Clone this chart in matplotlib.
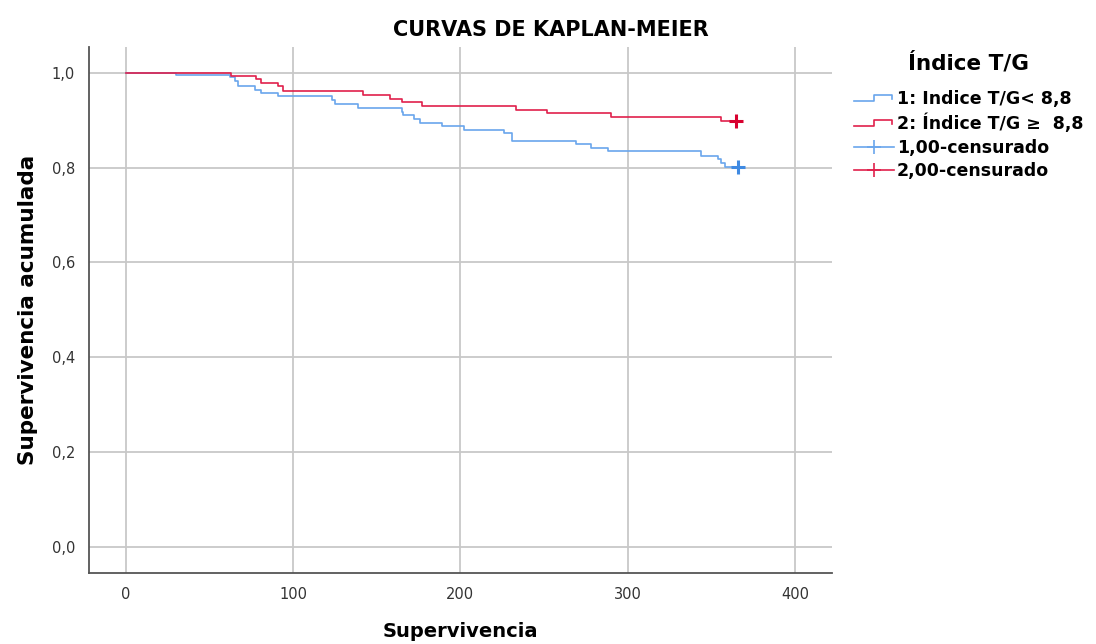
import matplotlib
matplotlib.use("Agg")
import matplotlib.pyplot as plt
from matplotlib import font_manager
from matplotlib.lines import Line2D
from matplotlib.legend_handler import HandlerBase

# Grupo 1: Indice T/G < 8,8
t_g1 = [0, 30, 62, 65, 67, 77, 81, 91, 123, 125, 139, 165, 166, 172, 176,
        189, 202, 226, 231, 269, 278, 288, 344, 354, 356, 358, 366]
s_g1 = [1.0, 0.996, 0.990, 0.983, 0.973, 0.964, 0.957, 0.950, 0.942, 0.934,
        0.926, 0.918, 0.910, 0.902, 0.895, 0.887, 0.880, 0.873, 0.857, 0.850,
        0.841, 0.834, 0.825, 0.818, 0.809, 0.802, 0.802]
cens_t_g1 = [366]
cens_s_g1 = [0.802]

# Grupo 2: Indice T/G >= 8,8
t_g2 = [0, 63, 78, 81, 91, 94, 142, 158, 165, 177, 233, 252, 290, 356, 365]
s_g2 = [1.0, 0.994, 0.987, 0.978, 0.971, 0.962, 0.954, 0.945, 0.938, 0.930,
        0.922, 0.915, 0.907, 0.899, 0.899]
cens_t_g2 = [365]
cens_s_g2 = [0.899]

x_ticks = [0, 100, 200, 300, 400]
y_ticks = [0.0, 0.2, 0.4, 0.6, 0.8, 1.0]
y_tick_labels = ["0,0", "0,2", "0,4", "0,6", "0,8", "1,0"]

BLUE = "#6aa6ec"
RED = "#e0204c"
BLUE_DARK = "#3f8ae2"
RED_DARK = "#d8002f"

# the title in the original uses a condensed face
names = {f.name for f in font_manager.fontManager.ttflist}
if "Liberation Sans Narrow" in names:
    title_font = {"family": "Liberation Sans Narrow", "size": 16.5}
else:
    title_font = {"family": "DejaVu Sans", "size": 15}


class StepHandler(HandlerBase):
    """Draw the little step glyph SPSS uses in the legend"""
    def create_artists(self, legend, orig_handle, xdescent, ydescent,
                       width, height, fontsize, trans):
        lo = height * 0.25
        hi = height * 0.75
        xs = [0, width * 0.5, width * 0.5, width * 0.95, width * 0.95]
        ys = [lo, lo, hi, hi, lo + (hi - lo) * 0.3]
        ln = Line2D(xs, ys, color=orig_handle.get_color(),
                    lw=orig_handle.get_linewidth(), transform=trans)
        return [ln]


fig = plt.figure(figsize=(10.96, 6.44), dpi=100)
ax = fig.add_axes([0.0812, 0.1107, 0.6777, 0.8168])

ax.step(t_g1, s_g1, where="post", color=BLUE, lw=1.2)
ax.step(t_g2, s_g2, where="post", color=RED, lw=1.2)
ax.plot(cens_t_g1, cens_s_g1, ls="none", marker="+", ms=10, mew=2.2, color=BLUE_DARK)
ax.plot(cens_t_g2, cens_s_g2, ls="none", marker="+", ms=10, mew=2.2, color=RED_DARK)

ax.set_xlim(-22, 422)
ax.set_ylim(-0.055, 1.055)
ax.set_xticks(x_ticks)
ax.set_yticks(y_ticks)
ax.set_yticklabels(y_tick_labels)
ax.tick_params(length=0, labelsize=10.5, labelcolor="#333333", pad=10)
ax.grid(True, color="#c8c8c8", lw=1.3)
ax.set_axisbelow(True)
for side in ["top", "right"]:
    ax.spines[side].set_visible(False)
for side in ["left", "bottom"]:
    ax.spines[side].set_color("#555555")
    ax.spines[side].set_linewidth(1.3)

ax.set_xlabel("Supervivencia", fontsize=14, fontweight="bold", labelpad=15)
ax.set_ylabel("Supervivencia acumulada", fontsize=15.5, fontweight="bold", labelpad=10)
fig.text(0.503, 0.953, "CURVAS DE KAPLAN-MEIER", ha="center", va="center",
         fontweight="bold", **title_font)

h1 = Line2D([], [], color=BLUE, lw=1.2)
h2 = Line2D([], [], color=RED, lw=1.2)
h3 = Line2D([], [], color=BLUE, lw=1.2, marker="+", ms=10, mew=1.2)
h4 = Line2D([], [], color=RED, lw=1.2, marker="+", ms=10, mew=1.2)
leg = fig.legend([h1, h2, h3, h4],
                 ["1: Indice T/G< 8,8", "2: Índice T/G ≥  8,8",
                  "1,00-censurado", "2,00-censurado"],
                 handler_map={h1: StepHandler(), h2: StepHandler()},
                 loc="upper left", bbox_to_anchor=(0.7725, 0.93),
                 frameon=False, title="Índice T/G",
                 prop={"size": 12.5, "weight": "bold"},
                 title_fontproperties={"size": 15.5, "weight": "bold"},
                 handlelength=2.3, handletextpad=0.2, labelspacing=0.32,
                 borderaxespad=0)
leg._legend_box.sep = 12

fig.savefig("out.png", dpi=100)
